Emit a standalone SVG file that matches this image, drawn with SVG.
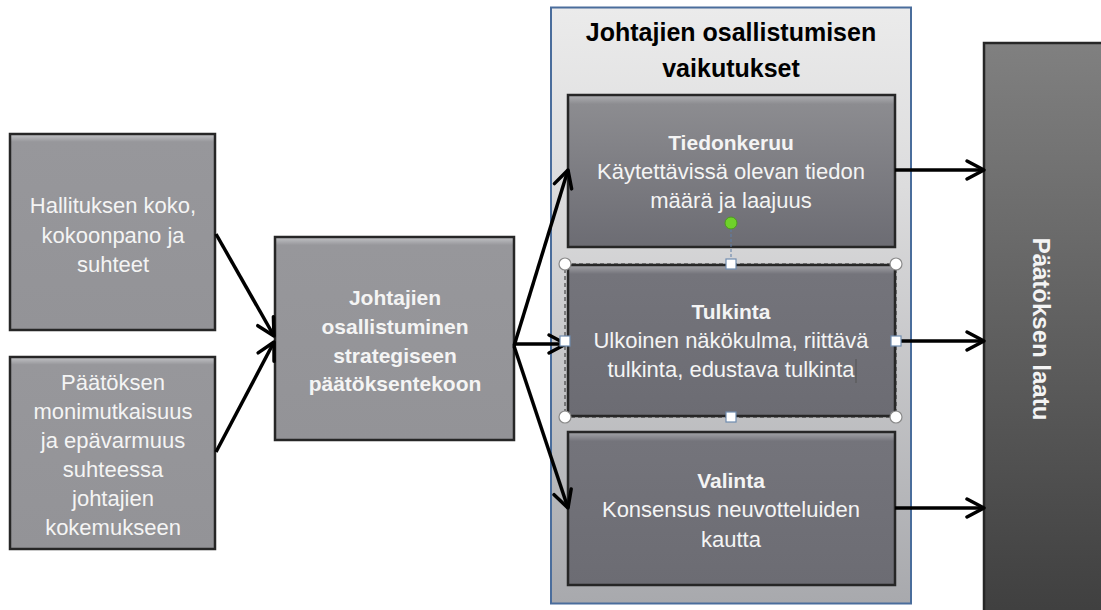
<svg xmlns="http://www.w3.org/2000/svg" width="1101" height="610" viewBox="0 0 1101 610">
  <defs>
    <linearGradient id="gBox" x1="0" y1="0" x2="0" y2="1">
      <stop offset="0" stop-color="#c4c5c8"/>
      <stop offset="0.04" stop-color="#97979b"/>
      <stop offset="1" stop-color="#939397"/>
    </linearGradient>
    <linearGradient id="gInner1" x1="0" y1="0" x2="0" y2="1">
      <stop offset="0" stop-color="#b0b1b4"/>
      <stop offset="0.06" stop-color="#8c8c90"/>
      <stop offset="1" stop-color="#6c6c73"/>
    </linearGradient>
    <linearGradient id="gInner" x1="0" y1="0" x2="0" y2="1">
      <stop offset="0" stop-color="#a5a6aa"/>
      <stop offset="0.06" stop-color="#74747b"/>
      <stop offset="1" stop-color="#6c6c73"/>
    </linearGradient>
    <linearGradient id="gPanel" x1="0" y1="0" x2="0" y2="1">
      <stop offset="0" stop-color="#ebebeb"/>
      <stop offset="0.3" stop-color="#dcdcdd"/>
      <stop offset="1" stop-color="#a8a9ad"/>
    </linearGradient>
    <linearGradient id="gQuality" x1="0" y1="0" x2="0" y2="1">
      <stop offset="0" stop-color="#808080"/>
      <stop offset="1" stop-color="#3f3f3f"/>
    </linearGradient>
    <marker id="arrow" markerUnits="userSpaceOnUse" markerWidth="26" markerHeight="26" viewBox="0 0 26 26" refX="23" refY="13" orient="auto">
      <path d="M6,4 L23,13 L6,22" fill="none" stroke="#000" stroke-width="3.5" stroke-linecap="round" stroke-linejoin="round"/>
    </marker>
  </defs>
  <style>
    .box { stroke: #262626; stroke-width: 2.5; }
    .lbl { font-family: "Liberation Sans", Arial, sans-serif; font-size: 22px; fill: #f4f4f4; text-anchor: middle; }
    .b { font-weight: bold; font-size: 21px; }
    .title { font-family: "Liberation Sans", Arial, sans-serif; font-size: 25px; font-weight: bold; fill: #000; text-anchor: middle; }
    .vert { font-weight: bold; font-size: 24px; }
    .conn { stroke: #000; stroke-width: 3.5; fill: none; marker-end: url(#arrow); }
    .ring { fill: #fff; stroke: #8a8a8a; stroke-width: 1.2; }
    .sq { fill: #fff; stroke: #6f8cb0; stroke-width: 1.2; }
  </style>

  <!-- Input factors -->
  <g id="board">
    <rect class="box" x="10" y="134" width="205" height="196" fill="url(#gBox)"/>
    <text class="lbl" x="113" y="213">Hallituksen koko,</text>
    <text class="lbl" x="113" y="243">kokoonpano ja</text>
    <text class="lbl" x="113" y="272">suhteet</text>
  </g>
  <g id="complexity">
    <rect class="box" x="10" y="357" width="205" height="192" fill="url(#gBox)"/>
    <text class="lbl" x="113" y="390">Päätöksen</text>
    <text class="lbl" x="113" y="419">monimutkaisuus</text>
    <text class="lbl" x="113" y="448">ja epävarmuus</text>
    <text class="lbl" x="113" y="477">suhteessa</text>
    <text class="lbl" x="113" y="506">johtajien</text>
    <text class="lbl" x="113" y="535">kokemukseen</text>
  </g>

  <!-- Central process -->
  <g id="participation">
    <rect class="box" x="275" y="237" width="239" height="203" fill="url(#gBox)"/>
    <text class="lbl b" x="395" y="305">Johtajien</text>
    <text class="lbl b" x="395" y="334">osallistuminen</text>
    <text class="lbl b" x="395" y="363">strategiseen</text>
    <text class="lbl b" x="395" y="391">päätöksentekoon</text>
  </g>

  <!-- Effects panel -->
  <g id="effects">
    <rect x="551" y="7.5" width="360" height="596" fill="url(#gPanel)" stroke="#4a6d9c" stroke-width="2"/>
    <text class="title" x="731" y="41">Johtajien osallistumisen</text>
    <text class="title" x="731" y="77">vaikutukset</text>
  </g>
  <g id="collection">
    <rect class="box" x="568" y="95" width="327" height="152" fill="url(#gInner1)"/>
    <text class="lbl b" x="731" y="150">Tiedonkeruu</text>
    <text class="lbl" x="731" y="179">Käytettävissä olevan tiedon</text>
    <text class="lbl" x="731" y="208">määrä ja laajuus</text>
  </g>
  <g id="interpretation">
    <rect class="box" x="568" y="265" width="327" height="151" fill="url(#gInner)"/>
    <text class="lbl b" x="731" y="319">Tulkinta</text>
    <text class="lbl" x="731" y="348">Ulkoinen näkökulma, riittävä</text>
    <text class="lbl" x="731" y="377">tulkinta, edustava tulkinta</text>
  </g>
  <g id="choice">
    <rect class="box" x="568" y="432" width="327" height="153" fill="url(#gInner)"/>
    <text class="lbl b" x="731" y="488">Valinta</text>
    <text class="lbl" x="731" y="517">Konsensus neuvotteluiden</text>
    <text class="lbl" x="731" y="547">kautta</text>
  </g>

  <!-- Outcome -->
  <g id="quality">
    <rect x="984" y="43" width="125" height="575" fill="url(#gQuality)" stroke="#262626" stroke-width="2.5"/>
    <text class="lbl vert" transform="translate(1033,329) rotate(90)">Päätöksen laatu</text>
  </g>

  <!-- Connectors -->
  <g id="connectors">
    <line class="conn" x1="216" y1="234" x2="274" y2="336"/>
    <line class="conn" x1="216" y1="452" x2="274" y2="342"/>
    <line class="conn" x1="514" y1="346" x2="568" y2="170"/>
    <line class="conn" x1="514" y1="344" x2="566" y2="344"/>
    <line class="conn" x1="514" y1="346" x2="568" y2="508"/>
    <line class="conn" x1="895" y1="170" x2="984" y2="170"/>
    <line class="conn" x1="896" y1="341" x2="984" y2="341"/>
    <line class="conn" x1="895" y1="508" x2="984" y2="508"/>
  </g>

  <!-- Editing handles on the selected shape -->
  <g id="selection">
    <rect x="565" y="264" width="331" height="153" fill="none" stroke="#2a2a2a" stroke-width="1" stroke-dasharray="4 3"/>
    <line x1="731" y1="229" x2="731" y2="259" stroke="#5f7fa8" stroke-width="1" stroke-dasharray="3 2"/>
    <circle cx="731" cy="223" r="6" fill="#6fd12a" stroke="#4c9a1f" stroke-width="1"/>
    <circle class="ring" cx="565" cy="264" r="6"/>
    <circle class="ring" cx="896" cy="264" r="6"/>
    <circle class="ring" cx="565" cy="417" r="6"/>
    <circle class="ring" cx="896" cy="417" r="6"/>
    <rect class="sq" x="726" y="259" width="10" height="10"/>
    <rect class="sq" x="726" y="412" width="10" height="10"/>
    <rect class="sq" x="560" y="336" width="10" height="10"/>
    <rect class="sq" x="891" y="336" width="10" height="10"/>
    <line x1="856" y1="359" x2="856" y2="383" stroke="#555" stroke-width="1"/>
  </g>
</svg>
